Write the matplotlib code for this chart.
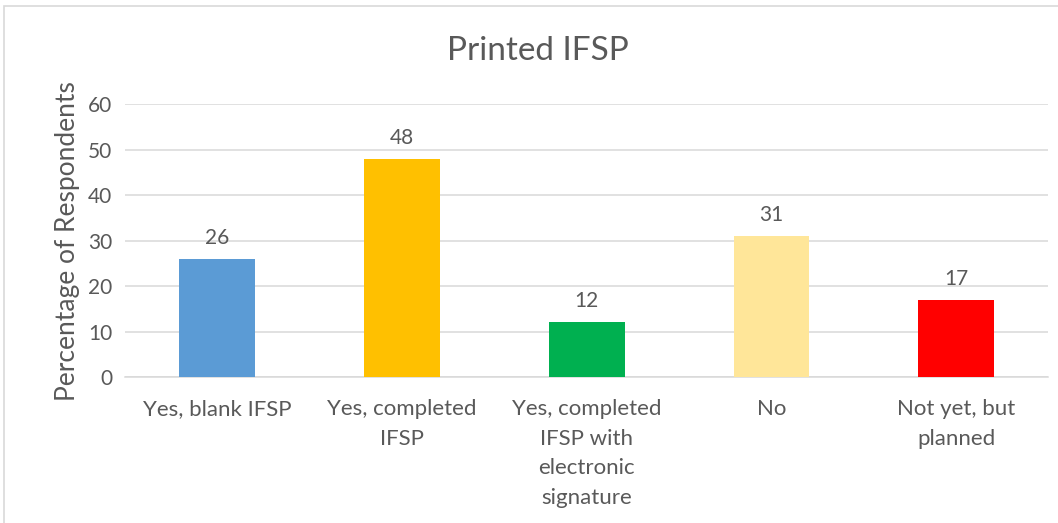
import matplotlib
matplotlib.use("Agg")
import matplotlib.pyplot as plt
from matplotlib.patches import Rectangle

categories = ["Yes, blank IFSP", "Yes, completed\nIFSP", "Yes, completed\nIFSP with\nelectronic\nsignature", "No", "Not yet, but\nplanned"]
values = [26, 48, 12, 31, 17]
colors = ["#5B9BD5", "#FFC000", "#00B050", "#FFE699", "#FF0000"]
yticks = [0, 10, 20, 30, 40, 50, 60]

plt.rcParams['font.family'] = ['Lato', 'DejaVu Sans']
txt = "#595959"

fig = plt.figure(figsize=(10.58, 5.23), dpi=100)
fig.patches.append(Rectangle((0.004, -0.2), 1.2, 1.188, transform=fig.transFigure,
                             fill=False, edgecolor="#D9D9D9", linewidth=1.2))
ax = fig.add_axes([0.118, 0.279, 0.873, 0.522])
x = list(range(len(categories)))
bars = ax.bar(x, values, width=0.41, color=colors, zorder=3)
ax.set_xlim(-0.5, len(categories) - 0.5)
ax.set_ylim(0, 60)
ax.set_yticks(yticks)
ax.set_yticklabels([str(v) for v in yticks], fontsize=15, color=txt)
ax.set_xticks(x)
ax.set_xticklabels(categories, fontsize=16, color=txt, linespacing=1.59, va="top")
ax.tick_params(axis="both", length=0)
ax.tick_params(axis="x", pad=16)
ax.tick_params(axis="y", pad=9)
ax.grid(axis="y", color="#D9D9D9", linewidth=1.1, zorder=0)
for s in ["top", "right", "left"]:
    ax.spines[s].set_visible(False)
ax.spines["bottom"].set_color("#D9D9D9")
ax.spines["bottom"].set_linewidth(1.1)
for b, v in zip(bars, values):
    ax.annotate(str(v), (b.get_x() + b.get_width() / 2, v), xytext=(0, 8),
                textcoords="offset points", ha="center", va="bottom", fontsize=15, color=txt)
ax.set_ylabel("Percentage of Respondents", fontsize=19, color=txt, labelpad=6)
fig.text(0.508, 0.902, "Printed IFSP", ha="center", va="center", fontsize=24, color=txt)
fig.savefig("out.png", dpi=100)
